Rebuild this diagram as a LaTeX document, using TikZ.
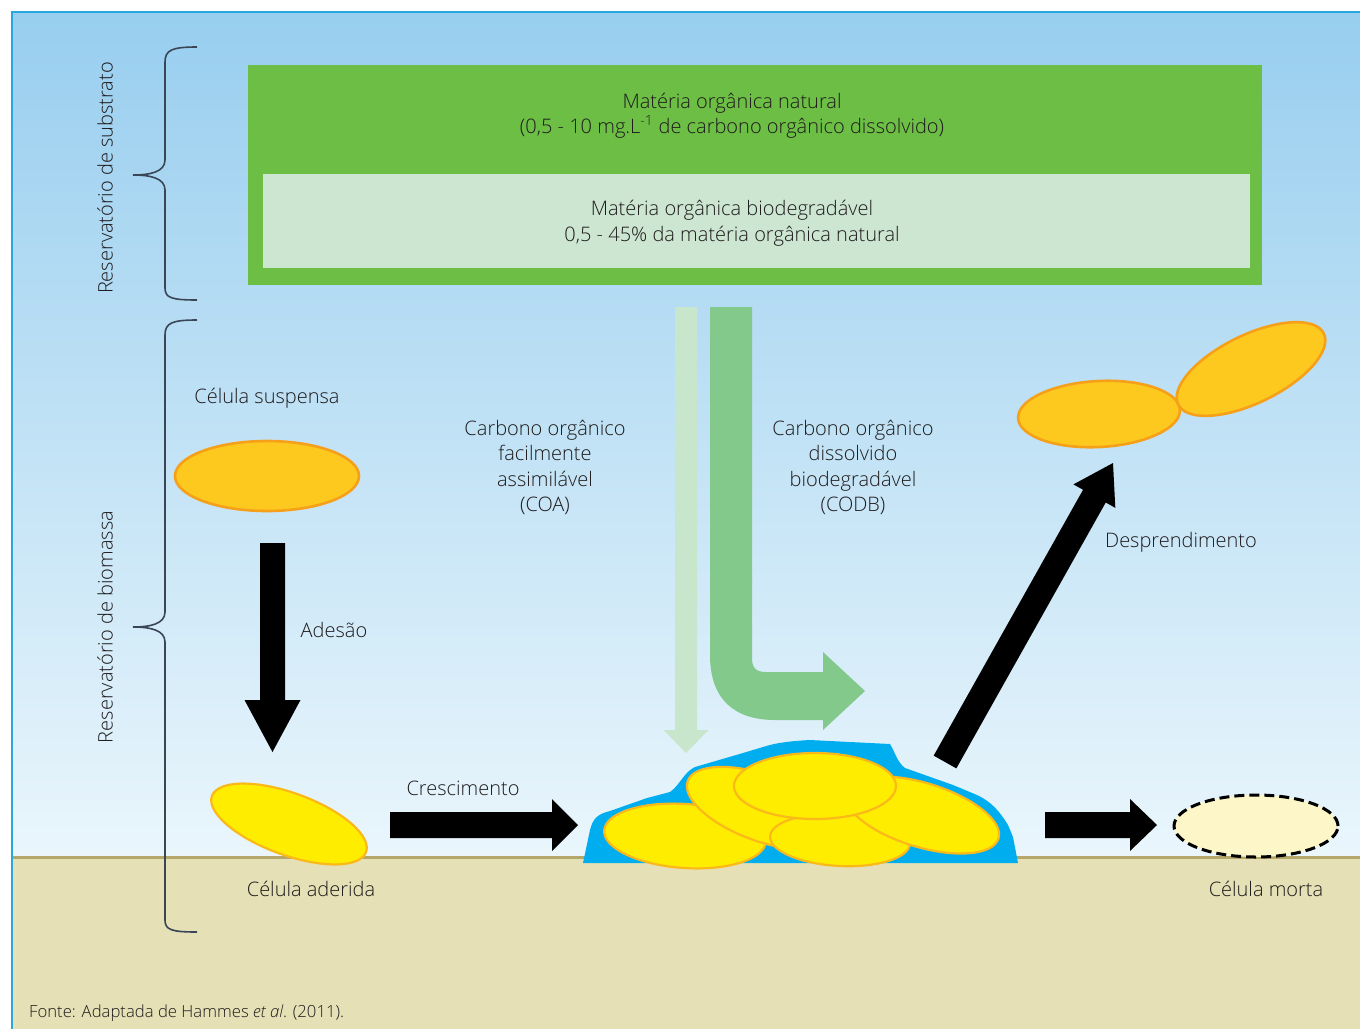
\documentclass[tikz,border=0pt]{standalone}
\usepackage{fontspec}
\setmainfont{Open Sans Light}
\usetikzlibrary{calc,shapes.geometric}
\definecolor{skyA}{HTML}{98CEEF}
\definecolor{skyB}{HTML}{BFE5F8}
\definecolor{skyC}{HTML}{EAF6FC}
\definecolor{frameblue}{HTML}{29A8E0}
\definecolor{groundfill}{HTML}{E5E0B5}
\definecolor{groundline}{HTML}{B5A66A}
\definecolor{boxgreen}{HTML}{6DBE45}
\definecolor{boxlight}{HTML}{CDE6D2}
\definecolor{txt}{HTML}{1E1B1C}
\definecolor{bracec}{HTML}{3A4656}
\definecolor{cellO}{HTML}{FDC91F}
\definecolor{cellOs}{HTML}{F6A01A}
\definecolor{cellY}{HTML}{FFED00}
\definecolor{cellYs}{HTML}{FBB919}
\definecolor{deadfill}{HTML}{FDF6C8}
\definecolor{biofilm}{HTML}{00AEEF}
\definecolor{coalight}{HTML}{C8E6CC}
\definecolor{codbgreen}{HTML}{84C98C}
\tikzset{
  lbl/.style={font=\fontsize{20}{25.5}\selectfont, text=txt, align=center, inner sep=0pt},
  cellorange/.style={ellipse, fill=cellO, draw=cellOs, line width=2.6pt, inner sep=0pt},
  cellyellow/.style={ellipse, fill=cellY, draw=cellYs, line width=2.2pt, inner sep=0pt},
  celldead/.style={ellipse, fill=deadfill, draw=black, line width=3pt, dash pattern=on 10pt off 5pt, inner sep=0pt},
  bracestyle/.style={draw=bracec, line width=1.6pt},
}
% #1 style, #2 start coord, #3 tip coord, #4 shaft half width, #5 head half width, #6 head length, #7 name
\newcommand\blockarrow[7]{%
  \coordinate (#7h) at ($(#3)!#6!(#2)$);
  \fill[#1] ($(#2)!#4!90:(#3)$) -- ($(#7h)!#4!90:(#3)$) -- ($(#7h)!#5!90:(#3)$) -- (#3)
     -- ($(#7h)!#5!-90:(#3)$) -- ($(#7h)!#4!-90:(#3)$) -- ($(#2)!#4!-90:(#3)$) -- cycle;}
\begin{document}
\begin{tikzpicture}[x=1pt,y=-1pt]
\useasboundingbox (0,0) rectangle (1360,1029);
\fill[white] (0,0) rectangle (1360,1029);
% sky
\shade[top color=skyA, middle color=skyB, bottom color=skyC] (12,12) rectangle (1360,857);
% ground
\fill[groundfill] (12,857) rectangle (1360,1029);
\draw[groundline, line width=3pt] (12,857) -- (1360,857);
% frame
\draw[frameblue, line width=2pt] (12,1029) -- (12,12) -- (1360,12);

% substrate boxes
\fill[boxgreen] (248,65) rectangle (1262,285);
\fill[boxlight] (263,174) rectangle (1250,268);
\node[lbl] (mon) at (732,115.5) {Matéria orgânica natural\\(0,5 - 10 mg.L\textsuperscript{-1} de carbono orgânico dissolvido)};
\node[lbl] (mob) at (732,223) {Matéria orgânica biodegradável\\0,5 - 45\% da matéria orgânica natural};

% braces
\draw[bracestyle] (197,47) .. controls (172,47) and (165,50) .. (165,62) -- (165,160)
   .. controls (165,172) and (150,175) .. (133,175)
   .. controls (150,175) and (165,178) .. (165,190) -- (165,288)
   .. controls (165,298) and (172,300) .. (197,300);
\draw[bracestyle] (197,320) .. controls (172,320) and (165,323) .. (165,335) -- (165,612)
   .. controls (165,624) and (150,627) .. (133,627)
   .. controls (150,627) and (165,630) .. (165,642) -- (165,920)
   .. controls (165,930) and (172,932) .. (197,932);
\node[lbl, rotate=90] (rsub) at (105,178) {Reservatório de substrato};
\node[lbl, rotate=90] (rbio) at (105,627) {Reservatório de biomassa};

% carbon arrows
\coordinate (coaA) at (686,307);
\coordinate (coaB) at (686,753);
\blockarrow{coalight}{coaA}{coaB}{11pt}{22.5pt}{23pt}{coa}
\fill[codbgreen] (710,307) -- (752,307) -- (752,658) .. controls (752,668) and (756,672) .. (766,672)
   -- (823,672) -- (823,652) -- (865,691) -- (823,730) -- (823,720) -- (775,720)
   .. controls (735,720) and (710,700) .. (710,655) -- cycle;
\node[lbl] (coa) at (545,467.5) {Carbono orgânico\\facilmente\\assimilável\\(COA)};
\node[lbl] (codb) at (853,467.5) {Carbono orgânico\\dissolvido\\biodegradável\\(CODB)};

% suspended cell
\node[lbl] (tsusp) at (267,398) {Célula suspensa};
\node[cellorange, minimum width=184pt, minimum height=70pt] (csusp) at (267,476) {};
\coordinate (adA) at (272.5,543);
\coordinate (adB) at (272.5,752);
\blockarrow{black}{adA}{adB}{12.5pt}{28pt}{52pt}{ad}
\node[lbl] (tades) at (334,630) {Adesão};

% adhered cell
\node[cellyellow, minimum width=164pt, minimum height=62pt, rotate=-20] (cader) at (289,824) {};
\node[lbl] (tader) at (311,889) {Célula aderida};

% growth arrow
\node[lbl] (tcres) at (463,788) {Crescimento};
\coordinate (crA) at (390,825);
\coordinate (crB) at (578,825);
\blockarrow{black}{crA}{crB}{13pt}{26pt}{26pt}{cr}

% biofilm
\fill[biofilm] (583,863) -- (590,830) .. controls (593,818) and (598,814) .. (610,811)
  -- (647,798) -- (670,792) .. controls (680,785) and (684,772) .. (695,767)
  -- (743,753) -- (763,747) .. controls (775,743) and (790,741) .. (810,740)
  -- (890,744) .. controls (895,752) and (897,762) .. (905,768)
  -- (953,785) -- (977,795) .. controls (992,802) and (1000,812) .. (1008,825)
  -- (1013,837) -- (1018,863) -- cycle;
\node[cellyellow, minimum width=162pt, minimum height=64pt, rotate=-4] (b1) at (685,836) {};
\node[cellyellow, minimum width=158pt, minimum height=66pt, rotate=-20] (b2) at (762,808) {};
\node[cellyellow, minimum width=140pt, minimum height=52pt, rotate=-3] (b4) at (840,840) {};
\node[cellyellow, minimum width=160pt, minimum height=64pt, rotate=-17] (b5) at (922,815) {};
\node[cellyellow, minimum width=162pt, minimum height=66pt] (b3) at (815,786) {};

% detachment
\coordinate (deA) at (945,762);
\coordinate (deB) at (1113,463);
\blockarrow{black}{deA}{deB}{13pt}{24pt}{38pt}{de}
\node[lbl] (tdesp) at (1181,542) {Desprendimento};
\node[cellorange, minimum width=162pt, minimum height=66pt, rotate=3] (cdet1) at (1099,414) {};
\node[cellorange, minimum width=162pt, minimum height=68pt, rotate=26] (cdet2) at (1251,369) {};

% death
\coordinate (moA) at (1045,825);
\coordinate (moB) at (1157,825);
\blockarrow{black}{moA}{moB}{13pt}{26pt}{27pt}{mo}
\node[celldead, minimum width=164pt, minimum height=62pt] (cdead) at (1256,826) {};
\node[lbl] (tmorta) at (1266,889) {Célula morta};

% source
\node[font=\fontsize{16.7}{18}\selectfont, text=txt, anchor=west, inner sep=0pt] (fonte) at (29,1013) {Fonte: Adaptada de Hammes \textit{et al}. (2011).};
\end{tikzpicture}
\end{document}
